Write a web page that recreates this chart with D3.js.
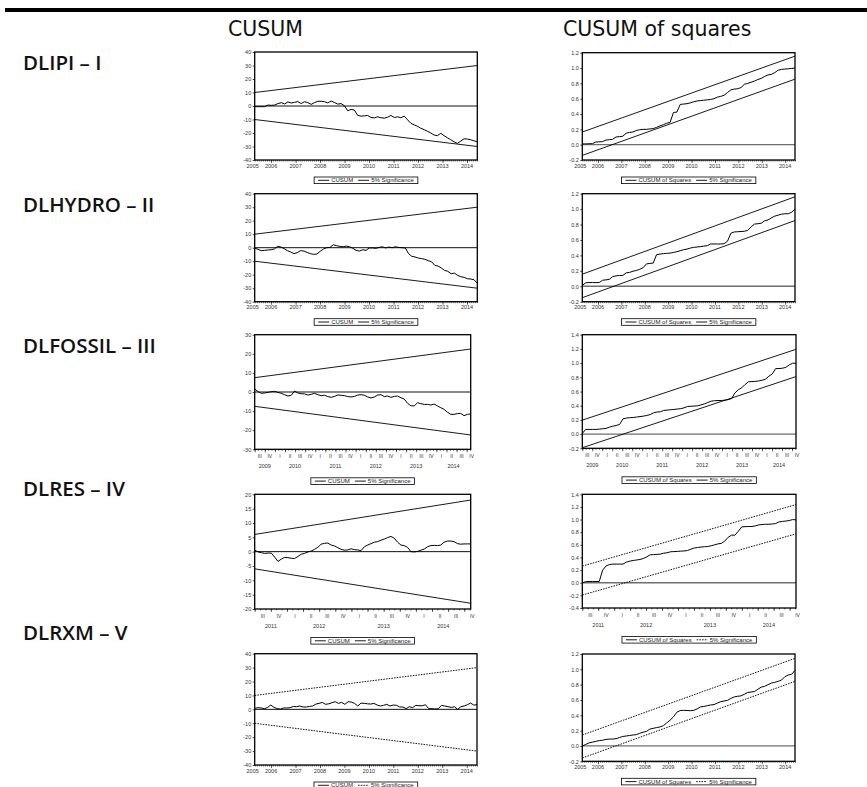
<!DOCTYPE html>
<html><head>
<meta charset="UTF-8">
<title>CUSUM and CUSUM of squares</title>
<script src="https://cdnjs.cloudflare.com/ajax/libs/d3/7.8.5/d3.min.js"></script>
<style>
  body { margin: 0; background: #fff; }
  svg { display: block; }
  .head { font-family: "DejaVu Sans", sans-serif; font-size: 20.5px; fill: #111; }
  .rowlab { font-family: "Open Sans", sans-serif; font-size: 20.5px; font-weight: 600; fill: #111; }
</style>
</head>
<body>
<svg id="chart" width="867" height="787"></svg>
<script>
// ---- data ----
const rowLabels = ["DLIPI \u2013 I", "DLHYDRO \u2013 II", "DLFOSSIL \u2013 III", "DLRES \u2013 IV", "DLRXM \u2013 V"];

const cusumIPI = [-0.5,-0.5,-0.5,-0.5,0.7,0.5,0.7,1.8,2.5,1.5,3,2.2,2.7,3.2,1.8,3.2,2.5,1.2,2.5,3.5,
  3.5,3.2,2.3,3.7,2.6,1.4,1.8,0.2,-3.5,-2.5,-3,-7,-7.5,-7.3,-7,-8.5,-8.8,-8,-8.7,-9,
  -8.3,-7,-8.5,-8,-8.7,-7.5,-10.2,-12.8,-14,-15,-16.5,-17.5,-18.7,-20,-21.5,-22,-20.2,-22,-23.5,-25,
  -26.5,-27.7,-26,-24.3,-24.5,-25,-25.8,-26.5];
const sqIPI = [0.01,0.01,0.012,0.013,0.035,0.037,0.04,0.06,0.065,0.07,0.1,0.105,0.11,0.15,0.16,0.165,0.185,0.195,0.2,0.2,
  0.205,0.21,0.225,0.245,0.26,0.28,0.29,0.42,0.425,0.525,0.53,0.535,0.545,0.56,0.57,0.575,0.58,0.585,0.59,0.6,
  0.62,0.63,0.645,0.68,0.715,0.725,0.73,0.745,0.787,0.8,0.815,0.83,0.85,0.865,0.89,0.91,0.917,0.94,0.972,0.982,
  0.987,0.99,0.995,1.0];

const cusumHYDRO = [-0.25,-1.2,-2.2,-2,-1.7,-1.5,-1,1,0.5,-0.7,-2.2,-3.2,-4.4,-3.7,-2.2,-2.5,-3.5,-4.4,-4.9,-4.7,
  -2.7,-1,0,0.2,2.2,1.5,1,0.7,1.2,0.7,-0.5,-2,-2.5,-1.5,-2,-0.2,-0.2,-0.5,0.2,0.7,
  -0.2,0.5,0,0.7,0.2,0,-0.2,-4.4,-6.4,-6.9,-7.7,-8.1,-8.6,-9.6,-10.4,-13,-13.6,-15,-16.8,-17.5,
  -19.3,-18.8,-20.5,-21.5,-22,-23,-23.2,-23.7,-26.4];
const sqHYDRO = [0.01,0.045,0.048,0.048,0.048,0.048,0.078,0.083,0.09,0.125,0.135,0.14,0.14,0.174,0.18,0.195,0.205,0.22,0.24,0.29,
  0.296,0.3,0.41,0.417,0.423,0.427,0.43,0.438,0.448,0.46,0.474,0.482,0.495,0.505,0.509,0.514,0.52,0.526,0.548,0.548,
  0.548,0.548,0.552,0.583,0.687,0.704,0.707,0.71,0.713,0.725,0.77,0.806,0.811,0.817,0.848,0.86,0.887,0.909,0.922,0.935,
  0.94,0.94,0.96,1.0];

const cusumFOSSIL = [1.6,0.2,-0.7,-0.5,-0.2,0.2,0.35,-0.2,-0.7,-1.4,-2.1,-1.7,0.5,-0.5,-0.9,-1,-1.6,-1.2,-0.7,-1.4,
  -1.9,-1.7,-2.4,-2.8,-2.3,-1.6,-1.7,-1.9,-2.4,-2.6,-2.3,-1.6,-1.4,-1.7,-2.6,-3.1,-2.6,-1.6,-1.4,-2.4,
  -2.1,-2.8,-2.3,-2.1,-3,-3.7,-5.9,-7.2,-7.3,-5.6,-6.1,-6.5,-6.5,-6.8,-6.3,-7.3,-8.2,-9.1,-10.6,-11.7,
  -11.7,-11.3,-11.2,-12.4,-11.7,-11.5];
const sqFOSSIL = [0.01,0.066,0.066,0.066,0.066,0.07,0.075,0.08,0.098,0.112,0.122,0.136,0.215,0.226,0.231,0.234,0.24,0.247,0.253,0.262,
  0.275,0.3,0.311,0.314,0.333,0.338,0.343,0.347,0.353,0.358,0.37,0.389,0.392,0.395,0.398,0.412,0.426,0.445,0.464,0.47,
  0.473,0.473,0.478,0.485,0.5,0.58,0.625,0.652,0.7,0.737,0.74,0.743,0.748,0.759,0.773,0.815,0.848,0.923,0.923,0.928,
  0.94,0.975,0.998,0.998];

const cusumRES = [0.5,-0.1,-0.35,-0.6,-0.5,-0.5,-1.9,-3.4,-2.6,-2,-2.1,-2.3,-2.4,-1.7,-0.9,-0.6,-0.1,0.2,0.8,1.5,
  2.6,2.9,3,2.3,2,1.4,0.8,0.5,0.6,1,0.7,0.6,0.35,1.7,2.3,2.8,3.3,3.5,4,4.4,
  4.9,5.3,4.7,3.3,2.3,2.1,1.5,0,-0.1,0.1,0.5,0.9,1.7,2.1,2.2,2.1,2.3,3.3,3.7,3.7,
  3.5,2.8,2.6,2.7,2.7,2.7];
const sqRES = [0,0.016,0.02,0.02,0.02,0.02,0.2,0.265,0.288,0.295,0.295,0.295,0.295,0.326,0.342,0.352,0.36,0.368,0.384,0.41,
  0.442,0.445,0.449,0.453,0.468,0.474,0.49,0.493,0.496,0.5,0.503,0.51,0.53,0.55,0.558,0.565,0.57,0.574,0.585,0.6,
  0.615,0.623,0.66,0.72,0.753,0.753,0.816,0.884,0.888,0.89,0.89,0.9,0.915,0.922,0.926,0.926,0.93,0.937,0.963,0.97,
  0.977,0.984,1.0,0.995];

const cusumRXM = [0.7,1.2,1,0.5,1.4,3.1,1.4,0.5,0.2,1,1,1.2,2.1,1.9,2.4,1.7,1.7,2.1,2.4,3.8,
  4.3,5,3.6,4,4.8,5.5,4.3,5,3.6,5.5,5.2,4.3,2.4,4.5,4.3,4,3.8,4.3,3.1,2.4,
  2.9,3.6,2.4,3.1,2.9,1.7,1.7,0.5,1.9,1.2,2.9,2.6,2.6,3.3,0.5,0.5,0.2,0.5,2.9,2.4,
  1.9,1.4,1.9,0,1.9,2.4,3.3,4.5,3.1,3.3];
const sqRXM = [0,0.02,0.04,0.05,0.06,0.07,0.075,0.085,0.09,0.09,0.095,0.11,0.124,0.13,0.137,0.143,0.148,0.165,0.18,0.19,
  0.22,0.23,0.24,0.248,0.265,0.3,0.337,0.38,0.44,0.462,0.465,0.463,0.46,0.465,0.483,0.51,0.516,0.525,0.535,0.54,
  0.56,0.578,0.587,0.595,0.62,0.64,0.648,0.654,0.675,0.698,0.704,0.71,0.74,0.768,0.778,0.8,0.82,0.83,0.843,0.86,
  0.904,0.926,0.935,0.987];

// 5% significance lines: [value at start, value at end]
const cusumBand = [[10, 30], [10, 30], [7.5, 22.5], [6, 18], [10, 30]];
const sqUpper = [[0.165, 1.155], [0.157, 1.16], [0.197, 1.194], [0.263, 1.237], [0.143, 1.143]];
const sqLower = [[-0.14, 0.855], [-0.148, 0.852], [-0.192, 0.81], [-0.195, 0.774], [-0.157, 0.843]];

// sample periods (fractional years)
const periodMonthly = [2005.33, 2014.42];
const periodFossil = [2009.5, 2014.85];
const periodRes = [2011.5, 2014.85];

// tick labels
const ticks40 = [-40, -30, -20, -10, 0, 10, 20, 30, 40];
const ticks30 = [-30, -20, -10, 0, 10, 20, 30];
const ticks20 = [-20, -15, -10, -5, 0, 5, 10, 15, 20];
const sqTicks12 = [-0.2, 0, 0.2, 0.4, 0.6, 0.8, 1.0, 1.2];
const sqTicks14 = [-0.2, 0, 0.2, 0.4, 0.6, 0.8, 1.0, 1.2, 1.4];
const sqTicks14b = [-0.4, -0.2, 0, 0.2, 0.4, 0.6, 0.8, 1.0, 1.2, 1.4];
const yearsMonthly = [2005, 2006, 2007, 2008, 2009, 2010, 2011, 2012, 2013, 2014];
const yearsFossil = [2009, 2010, 2011, 2012, 2013, 2014];
const yearsRes = [2011, 2012, 2013, 2014];
const quarterNames = ["I", "II", "III", "IV"];

// ---- layout ----
const rowY = [70, 212, 353, 496, 640];
const boxes = [
  { L: { x0: 254.7, x1: 477.3, y0: 52, y1: 160 },     R: { x0: 582.3, x1: 795, y0: 52.7, y1: 160 } },
  { L: { x0: 254.7, x1: 477.3, y0: 193.7, y1: 301.7 }, R: { x0: 582.3, x1: 795, y0: 193.7, y1: 301.7 } },
  { L: { x0: 254.7, x1: 470.7, y0: 334.7, y1: 449.3 }, R: { x0: 582.3, x1: 796, y0: 334.7, y1: 448.3 } },
  { L: { x0: 254.7, x1: 470.7, y0: 494.3, y1: 609 },   R: { x0: 582.3, x1: 796, y0: 494.3, y1: 608 } },
  { L: { x0: 254.7, x1: 477, y0: 653.7, y1: 765 },     R: { x0: 582.3, x1: 795, y0: 654, y1: 761.3 } }
];

const rows = [
  { cusum: cusumIPI, sq: sqIPI, period: periodMonthly, years: yearsMonthly, q: false,
    cTicks: ticks40, sTicks: sqTicks12, dotC: false, dotS: false },
  { cusum: cusumHYDRO, sq: sqHYDRO, period: periodMonthly, years: yearsMonthly, q: false,
    cTicks: ticks40, sTicks: sqTicks12, dotC: false, dotS: false },
  { cusum: cusumFOSSIL, sq: sqFOSSIL, period: periodFossil, years: yearsFossil, q: true,
    cTicks: ticks30, sTicks: sqTicks14, dotC: false, dotS: false },
  { cusum: cusumRES, sq: sqRES, period: periodRes, years: yearsRes, q: true,
    cTicks: ticks20, sTicks: sqTicks14b, dotC: false, dotS: true },
  { cusum: cusumRXM, sq: sqRXM, period: periodMonthly, years: yearsMonthly, q: false,
    cTicks: ticks40, sTicks: sqTicks12, dotC: true, dotS: true }
];

const tickFont = '"Liberation Sans", Arial, sans-serif';
const svg = d3.select("#chart");

// top rule and column heads
svg.append("rect").attr("x", 5).attr("y", 8).attr("width", 862).attr("height", 4).attr("fill", "#000");
svg.append("text").attr("class", "head").attr("x", 228).attr("y", 36).text("CUSUM");
svg.append("text").attr("class", "head").attr("x", 563).attr("y", 36).text("CUSUM of squares");

const fmtSq = v => d3.format(".1f")(v).replace("\u2212", "-");
const fmtC = v => String(v);

function drawPanel(box, spec) {
  const g = svg.append("g");
  const x = d3.scaleLinear().domain(spec.period).range([box.x0, box.x1]);
  const y = d3.scaleLinear().domain(d3.extent(spec.yTicks)).range([box.y1, box.y0]);
  const t = d3.scaleLinear().domain([0, spec.values.length - 1]).range(spec.period);
  const dash = spec.dotted ? "1.6,1.1" : null;

  // zero line
  g.append("line")
    .attr("x1", box.x0).attr("x2", box.x1).attr("y1", y(0)).attr("y2", y(0))
    .attr("stroke", spec.isSq ? "#6e6e6e" : "#111")
    .attr("stroke-width", spec.isSq ? 1.3 : 1);

  // significance lines
  [spec.upper, spec.lower].forEach(b => {
    g.append("line")
      .attr("x1", x(spec.period[0])).attr("y1", y(b[0]))
      .attr("x2", x(spec.period[1])).attr("y2", y(b[1]))
      .attr("stroke", "#000").attr("stroke-width", 0.9)
      .attr("stroke-dasharray", dash);
  });

  // statistic
  const line = d3.line().x((d, i) => x(t(i))).y(d => y(d));
  g.append("path").datum(spec.values)
    .attr("d", line).attr("fill", "none")
    .attr("stroke", "#000").attr("stroke-width", 1).attr("stroke-linejoin", "round");

  // frame
  g.append("rect")
    .attr("x", box.x0).attr("y", box.y0)
    .attr("width", box.x1 - box.x0).attr("height", box.y1 - box.y0)
    .attr("fill", "none").attr("stroke", "#000").attr("stroke-width", 1.3);

  // y axis
  const yg = g.append("g").attr("transform", `translate(${box.x0},0)`)
    .call(d3.axisLeft(y).tickValues(spec.yTicks).tickSize(2).tickPadding(1.5)
      .tickFormat(spec.isSq ? fmtSq : fmtC));
  yg.select(".domain").remove();
  yg.selectAll("line").attr("stroke-width", 0.7);
  yg.selectAll("text").attr("font-size", 5.5).attr("font-family", tickFont).attr("fill", "#333");

  // x axis: monthly minor ticks and year / quarter major ticks
  const p0 = spec.period[0], p1 = spec.period[1];
  const months = d3.range(Math.ceil(p0 * 12 - 1e-6), Math.floor(p1 * 12 + 1e-6) + 1).map(m => m / 12);
  const majors = spec.q
    ? d3.range(Math.ceil(p0 * 4 - 1e-6), Math.floor(p1 * 4 + 1e-6) + 1).map(v => v / 4)
    : d3.range(Math.ceil(p0), Math.floor(p1) + 1);
  const xa = g.append("g").attr("transform", `translate(0,${box.y1})`);
  xa.append("g").call(d3.axisBottom(x).tickValues(months).tickSize(1.5).tickFormat(""));
  xa.append("g").call(d3.axisBottom(x).tickValues(majors).tickSize(3).tickFormat(""));
  xa.selectAll(".domain").remove();
  xa.selectAll("line").attr("stroke-width", 0.6);

  const lab = g.append("g").attr("font-family", tickFont).attr("font-size", 5.5)
    .attr("fill", "#333").attr("text-anchor", "middle");
  let legendTop;
  if (!spec.q) {
    lab.selectAll("text").data(spec.years).join("text")
      .attr("x", d => Math.max(x(d), box.x0 - 2))
      .attr("y", box.y1 + 7.7)
      .text(d => d);
    legendTop = box.y1 + 17;
  } else {
    const qs = d3.range(Math.floor(p0 * 4), Math.ceil(p1 * 4));
    lab.append("g").selectAll("text").data(qs).join("text")
      .attr("x", d => x(d / 4 + 0.125))
      .attr("y", box.y1 + 8.5)
      .attr("font-size", 5)
      .text(d => quarterNames[((d % 4) + 4) % 4]);
    lab.append("g").selectAll("text").data(spec.years).join("text")
      .attr("x", d => x((Math.max(d, p0) + Math.min(d + 1, p1)) / 2))
      .attr("y", box.y1 + 18.5)
      .text(d => d);
    legendTop = box.y1 + 28.5;
  }

  // legend
  const lg = g.append("g");
  let pos = 0;
  [spec.name, "5% Significance"].forEach((txt, i) => {
    lg.append("line").attr("x1", pos).attr("x2", pos + 11)
      .attr("y1", legendTop + 3.3).attr("y2", legendTop + 3.3)
      .attr("stroke", "#000").attr("stroke-width", 0.9)
      .attr("stroke-dasharray", i === 1 ? dash : null);
    pos += 13;
    const tx = lg.append("text").attr("x", pos).attr("y", legendTop + 5.2)
      .attr("font-family", tickFont).attr("font-size", 6).attr("fill", "#222").text(txt);
    pos += tx.node().getComputedTextLength() + (i === 0 ? 5 : 0);
  });
  const pad = 4;
  lg.insert("rect", ":first-child")
    .attr("x", -pad).attr("y", legendTop).attr("width", pos + 2 * pad).attr("height", 6.6)
    .attr("fill", "#fff").attr("stroke", "#000").attr("stroke-width", 0.8);
  const cx = (box.x0 + box.x1) / 2;
  lg.attr("transform", `translate(${cx - pos / 2},0)`);
}

rows.forEach((r, i) => {
  svg.append("text").attr("class", "rowlab").attr("x", 23).attr("y", rowY[i]).text(rowLabels[i]);
  drawPanel(boxes[i].L, {
    values: r.cusum, period: r.period, yTicks: r.cTicks, isSq: false,
    upper: cusumBand[i], lower: cusumBand[i].map(v => -v), dotted: r.dotC,
    years: r.years, q: r.q, name: "CUSUM"
  });
  drawPanel(boxes[i].R, {
    values: r.sq, period: r.period, yTicks: r.sTicks, isSq: true,
    upper: sqUpper[i], lower: sqLower[i], dotted: r.dotS,
    years: r.years, q: r.q, name: "CUSUM of Squares"
  });
});
</script>
</body>
</html>
